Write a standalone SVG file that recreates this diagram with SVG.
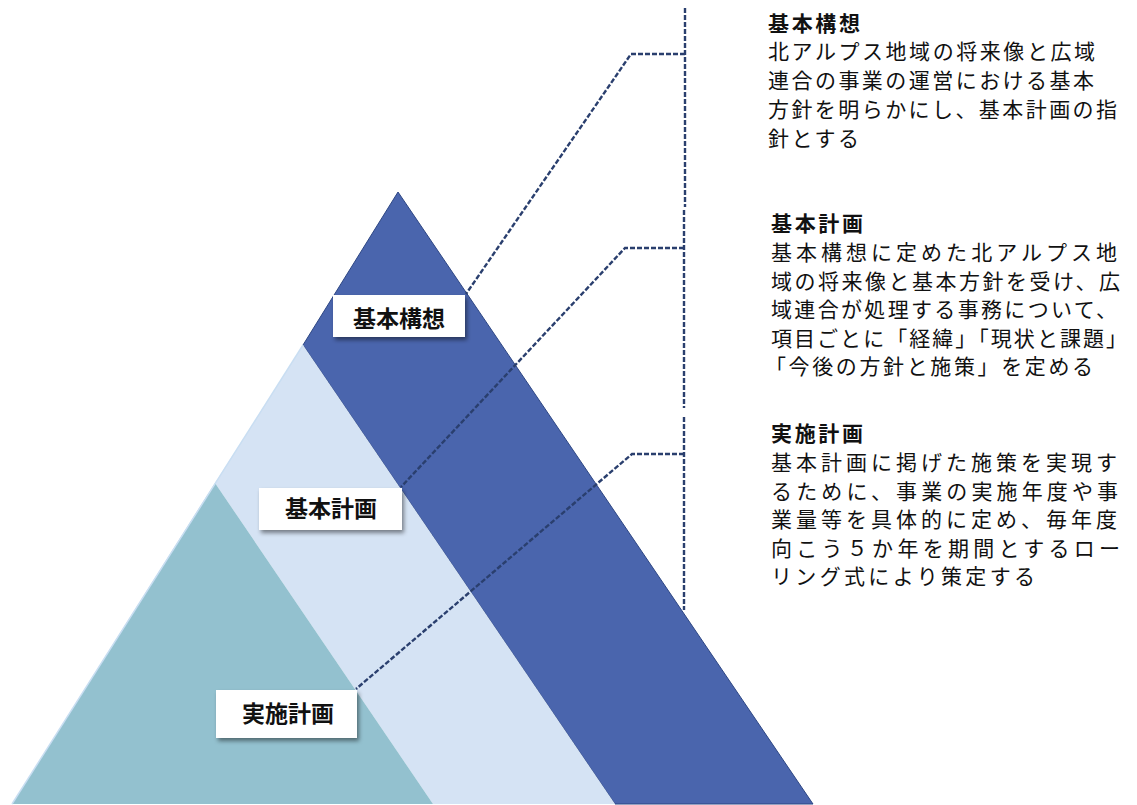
<svg xmlns="http://www.w3.org/2000/svg" width="1137" height="805" viewBox="0 0 1137 805">
<style>
.lbl{font-family:"Noto Sans CJK JP","Noto Sans CJK SC",sans-serif;font-weight:bold;font-size:23px;fill:#111;text-anchor:middle}
.ttl{font-family:"Noto Sans CJK JP","Noto Sans CJK SC",sans-serif;font-weight:bold;font-size:21px;fill:#111}
.body{font-family:"Noto Sans CJK JP","Noto Sans CJK SC",sans-serif;font-size:21px;fill:#111}
.box{fill:#fff}
.dash{fill:none;stroke:#2A3F6E;stroke-width:2.4;stroke-dasharray:5 2}
</style>
<defs>
<filter id="sh" x="-10%" y="-20%" width="130%" height="160%">
<feDropShadow dx="2" dy="3" stdDeviation="2" flood-color="#000" flood-opacity="0.45"/>
</filter>
</defs>
<rect width="1137" height="805" fill="#fff"/>
<g id="pyramid">
<polygon points="398,192 813,804 615,804 303,345" fill="#4A65AD" stroke="#2D4683" stroke-width="1"/>
<polygon points="303,345 615,804 433,804 215,483" fill="#D5E3F4"/>
<polygon points="215,483 433,804 12,804" fill="#93C1CF"/>
<line x1="303" y1="345" x2="12" y2="804" stroke="#C9DEF2" stroke-width="1.5"/>
</g>
<g id="connectors">
<path class="dash" d="M685,8 V207"/>
<path class="dash" d="M684,210 V408"/>
<path class="dash" d="M684,417 V610"/>
<path class="dash" d="M685,54 H631 L466,294"/>
<path class="dash" d="M684,248 H625 L401,487"/>
<path class="dash" d="M684,454 H632 L356,689"/>
</g>
<g id="node-kihonkoso">
<rect class="box" x="333" y="295" width="132" height="42" filter="url(#sh)"/>
<text class="lbl" x="399" y="327">基本構想</text>
</g>
<g id="node-kihonkeikaku">
<rect class="box" x="259" y="488" width="143" height="42" filter="url(#sh)"/>
<text class="lbl" x="331" y="517">基本計画</text>
</g>
<g id="node-jisshikeikaku">
<rect class="box" x="216" y="690" width="141" height="48" filter="url(#sh)"/>
<text class="lbl" x="288" y="722">実施計画</text>
</g>
<g id="desc-kihonkoso">
<text class="ttl" x="768" y="31" textLength="92" lengthAdjust="spacing">基本構想</text>
<text class="body" x="768" y="59" textLength="327" lengthAdjust="spacing">北アルプス地域の将来像と広域</text>
<text class="body" x="768" y="88" textLength="326" lengthAdjust="spacing">連合の事業の運営における基本</text>
<text class="body" x="768" y="117" textLength="349" lengthAdjust="spacing">方針を明らかにし、基本計画の指</text>
<text class="body" x="768" y="146" textLength="91" lengthAdjust="spacing">針とする</text>
</g>
<g id="desc-kihonkeikaku">
<text class="ttl" x="771" y="231" textLength="92" lengthAdjust="spacing">基本計画</text>
<text class="body" x="771" y="260" textLength="346" lengthAdjust="spacing">基本構想に定めた北アルプス地</text>
<text class="body" x="771" y="289" textLength="349" lengthAdjust="spacing">域の将来像と基本方針を受け、広</text>
<text class="body" x="771" y="317" textLength="346" lengthAdjust="spacing">域連合が処理する事務について、</text>
<text class="body" x="771" y="346" textLength="356" lengthAdjust="spacing">項目ごとに「経緯」「現状と課題」</text>
<text class="body" x="765" y="374" textLength="328" lengthAdjust="spacing">「今後の方針と施策」を定める</text>
</g>
<g id="desc-jisshikeikaku">
<text class="ttl" x="771" y="441" textLength="92" lengthAdjust="spacing">実施計画</text>
<text class="body" x="771" y="470" textLength="346" lengthAdjust="spacing">基本計画に掲げた施策を実現す</text>
<text class="body" x="771" y="499" textLength="347" lengthAdjust="spacing">るために、事業の実施年度や事</text>
<text class="body" x="771" y="527" textLength="346" lengthAdjust="spacing">業量等を具体的に定め、毎年度</text>
<text class="body" x="771" y="556" textLength="349" lengthAdjust="spacing">向こう５か年を期間とするロー</text>
<text class="body" x="771" y="584" textLength="264" lengthAdjust="spacing">リング式により策定する</text>
</g>
</svg>
